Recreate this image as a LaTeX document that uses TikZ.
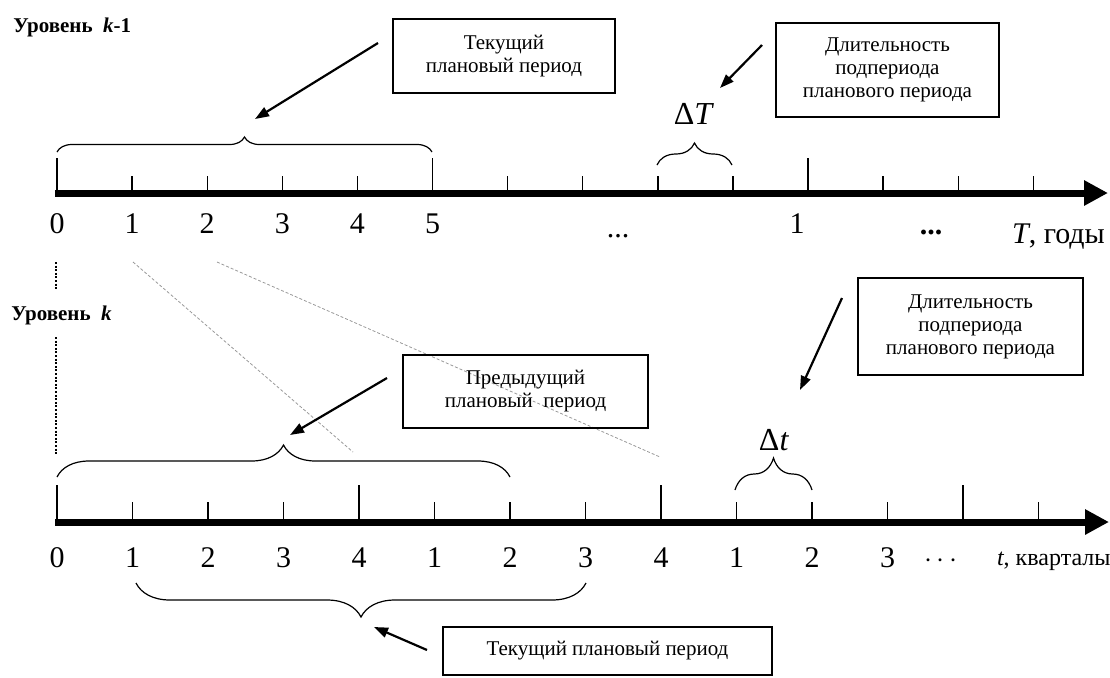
\documentclass[tikz,border=0pt]{standalone}
\usepackage{fontspec}
\setmainfont{Liberation Serif}
\usetikzlibrary{arrows.meta, decorations.pathreplacing, positioning}

\newcommand{\boxfont}{\fontsize{10.5pt}{11.5pt}\selectfont}
\newcommand{\numfont}{\fontsize{15pt}{16pt}\selectfont}
\newcommand{\levelfont}{\fontsize{10.5pt}{12pt}\selectfont\bfseries}

\begin{document}
\begin{tikzpicture}[x=0.5pt, y=-0.5pt,
    plan box/.style={draw, line width=1pt, align=center, font=\boxfont, inner sep=0pt},
    axis line/.style={line width=3.5pt, -{Triangle[length=12pt,width=12pt]}},
    tick mark/.style={line width=0.7pt},
    pointer/.style={line width=1.1pt, -{Triangle[length=7pt,width=5pt]}},
    span brace/.style={decorate, decoration={brace, amplitude=#1}, line width=0.6pt},
    guide/.style={gray!80, line width=0.4pt, dash pattern=on 1.5pt off 1pt},
    level guide/.style={line width=0.6pt, dash pattern=on 1pt off 0.8pt}]
    \useasboundingbox (0,0) rectangle (1110,677);

    % Level k-1
    \node[anchor=base west, font=\levelfont, inner sep=0pt] (lvltop) at (13,32) {Уровень\ \ \textit{k}-1};

    % Boxes of the upper level
    \node[plan box, minimum width=111pt, minimum height=37pt] (curtop) at (504,56) {Текущий\\плановый период};
    \node[plan box, minimum width=111.5pt, minimum height=47pt] (durtop) at (887.5,70) {Длительность\\подпериода\\планового периода};

    % Upper axis and ticks
    \coordinate (topstart) at (55,193);
    \coordinate (topend) at (1108,193);
    \draw[axis line] (topstart) -- (topend);
    \foreach \k in {0,...,13} \draw[tick mark] ({57+75.1*\k},193) -- ++(0,-17);
    \foreach \k in {0,5,10} \draw[tick mark] ({57+75.1*\k},193) -- ++(0,-35);

    % Upper axis labels
    \foreach \k in {0,...,5}
        \node[anchor=base, font=\numfont] (top\k) at ({57+75.1*\k},233) {\k};
    \node[anchor=base, font=\numfont] (topdots) at (618,237) {...};
    \node[anchor=base, font=\numfont] (topone) at (797,233) {1};
    \node[anchor=base, font=\numfont\bfseries] (topmore) at (931,234) {...};
    \node[anchor=base west, font=\numfont] (topunit) at (1005,243) {\textit{T}, годы};

    % Upper braces
    \draw[span brace=7.5pt] (57,152) -- (432,152);
    \draw[span brace=11pt] (657,165) -- (732,165);
    \node[anchor=base, font=\fontsize{16pt}{17pt}\selectfont] (dT) at (694,124) {Δ\textit{T}};

    % Upper pointers
    \coordinate (a1tail) at (378,43);
    \coordinate (a1tip) at (255,119);
    \draw[pointer] (a1tail) -- (a1tip);
    \coordinate (a2tail) at (762,45);
    \coordinate (a2tip) at (720,88);
    \draw[pointer] (a2tail) -- (a2tip);

    % Level k
    \node[anchor=base west, font=\levelfont, inner sep=0pt] (lvlbot) at (11,320) {Уровень\ \ \textit{k}};
    \draw[level guide] (56,262) -- (56,290);
    \draw[level guide] (56,337) -- (56,455);

    % Projection lines
    \draw[guide] (133,262) -- (353,452);
    \draw[guide] (217,262) -- (660,457);

    % Boxes of the lower level
    \node[plan box, minimum width=122.5pt, minimum height=36.5pt] (prevbot) at (525.5,391.5) {Предыдущий\\плановый\ \ период};
    \node[plan box, minimum width=112.5pt, minimum height=48.5pt] (durbot) at (970.5,326.5) {Длительность\\подпериода\\планового периода};
    \node[plan box, minimum width=164.5pt, minimum height=24pt] (curbot) at (607.5,651) {Текущий плановый период};

    % Lower axis and ticks
    \coordinate (botstart) at (55,522);
    \coordinate (botend) at (1109,522);
    \draw[axis line] (botstart) -- (botend);
    \foreach \k in {0,...,13} \draw[tick mark] ({57+75.5*\k},522) -- ++(0,-20);
    \foreach \k in {0,4,8,12} \draw[tick mark] ({57+75.5*\k},522) -- ++(0,-37);

    % Lower axis labels
    \foreach \k/\v in {0/0,1/1,2/2,3/3,4/4,5/1,6/2,7/3,8/4,9/1,10/2,11/3}
        \node[anchor=base, font=\numfont] (bot\k) at ({57+75.5*\k},567) {\v};
    \node[anchor=base, font=\numfont] (botmore) at (941,567) {$\cdots$};
    \node[anchor=base west, font=\fontsize{12pt}{13pt}\selectfont] (botunit) at (990,565) {\textit{t}, кварталы};

    % Lower braces
    \draw[span brace=16pt] (57,477) -- (510,477);
    \draw[span brace=17pt] (586,583) -- (136,583);
    \draw[span brace=16pt] (735,490) -- (812,490);
    \node[anchor=base, font=\fontsize{16pt}{17pt}\selectfont] (dt) at (774,450) {Δ\textit{t}};

    % Lower pointers
    \coordinate (a3tail) at (387,378);
    \coordinate (a3tip) at (290,435);
    \draw[pointer] (a3tail) -- (a3tip);
    \coordinate (a4tail) at (842,298);
    \coordinate (a4tip) at (800,390);
    \draw[pointer] (a4tail) -- (a4tip);
    \coordinate (a5tail) at (427,650);
    \coordinate (a5tip) at (374,627);
    \draw[pointer] (a5tail) -- (a5tip);
\end{tikzpicture}
\end{document}
